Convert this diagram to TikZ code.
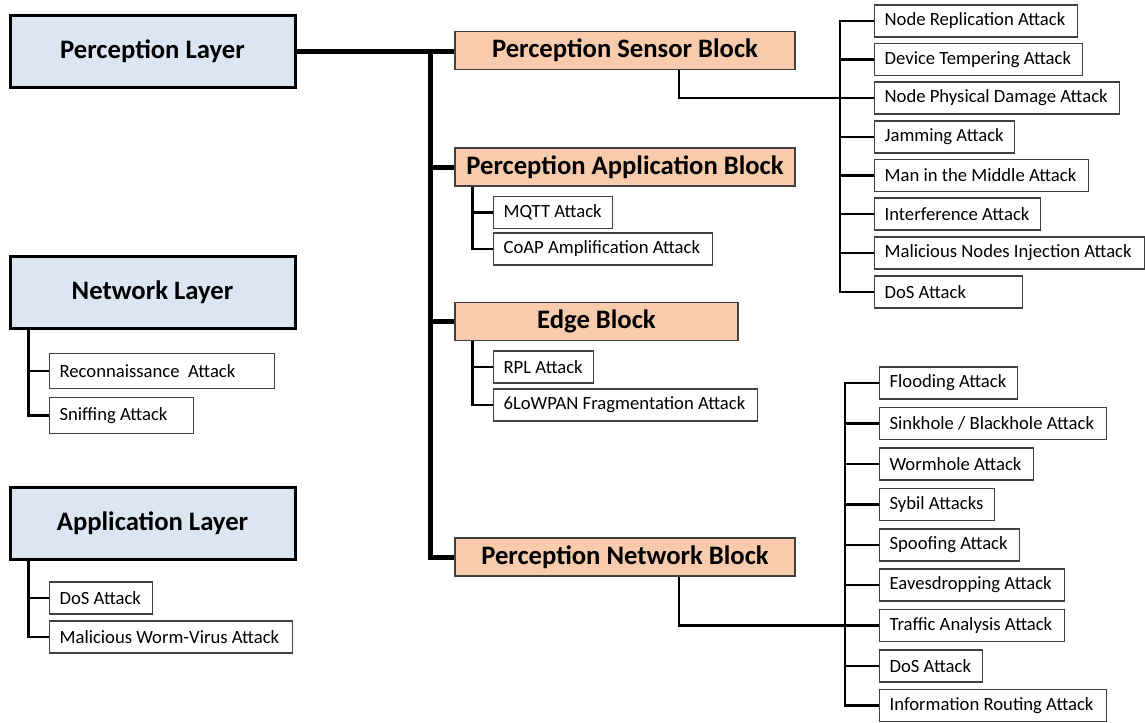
\documentclass[tikz,border=0pt]{standalone}
\usepackage{fontspec}
\setmainfont{Carlito}
\definecolor{layerfill}{HTML}{DCE6F2}
\definecolor{blockfill}{HTML}{F8CBAD}
\definecolor{edgegray}{HTML}{404040}
% fixed-width, left-aligned label body (#1 = outer box width in pt)
\newcommand\lefttext[2]{\makebox[\dimexpr#1pt-15pt\relax][l]{#2}}
\begin{document}
\begin{tikzpicture}[x=0.75pt,y=-0.75pt,
  layer/.style={draw=black, line width=2.25pt, fill=layerfill, minimum width=213.75pt,
    minimum height=54pt, inner sep=0pt, font=\fontsize{20}{24}\selectfont\bfseries},
  block/.style={draw=edgegray, line width=1pt, fill=blockfill, minimum width=255pt,
    minimum height=28.5pt, inner sep=0pt, font=\fontsize{20}{24}\selectfont\bfseries},
  attack/.style={draw=edgegray, line width=0.9pt, fill=white, anchor=west, inner xsep=7.5pt,
    inner ysep=0pt, minimum height=24pt, font=\fontsize{14}{16}\selectfont},
  trunk/.style={line width=3.75pt},
  branch/.style={line width=2pt},
  feed/.style={line width=1.6pt}]

\useasboundingbox (0,0) rectangle (1145,722);

% layers
\node[layer] (pl) at (152.5,51)  {Perception Layer};
\node[layer] (nl) at (152.5,292) {Network Layer};
\node[layer] (al) at (152.5,523) {Application Layer};

% perception blocks
\node[block] (psb) at (625,50.5)  {Perception Sensor Block};
\node[block] (pab) at (625,167)   {Perception Application Block};
\node[block, minimum width=212.25pt] (eb) at (596.5,321.5) {Edge Block};
\node[block] (pnb) at (625,557)   {Perception Network Block};

% sensor block attacks
\node[attack] (s1) at (874,21)    {\lefttext{152.25}{Node Replication Attack}};
\node[attack] (s2) at (874,59.5)  {\lefttext{156}{Device Tempering Attack}};
\node[attack] (s3) at (874,98)    {\lefttext{183.75}{Node Physical Damage Attack}};
\node[attack] (s4) at (874,137)   {\lefttext{105}{Jamming Attack}};
\node[attack] (s5) at (874,175.5) {\lefttext{160.5}{Man in the Middle Attack}};
\node[attack] (s6) at (874,214)   {\lefttext{124.5}{Interference Attack}};
\node[attack] (s7) at (874,253)   {\lefttext{202.5}{Malicious Nodes Injection Attack}};
\node[attack] (s8) at (874,292)   {\lefttext{111}{DoS Attack}};

% network block attacks
\node[attack] (n1) at (879,383)   {\lefttext{103.5}{Flooding Attack}};
\node[attack] (n2) at (879,423.5) {\lefttext{170.25}{Sinkhole / Blackhole Attack}};
\node[attack] (n3) at (879,464)   {\lefttext{115.5}{Wormhole Attack}};
\node[attack] (n4) at (879,504.5) {\lefttext{86.25}{Sybil Attacks}};
\node[attack] (n5) at (879,545)   {\lefttext{105}{Spoofing Attack}};
\node[attack] (n6) at (879,585)   {\lefttext{138.75}{Eavesdropping Attack}};
\node[attack] (n7) at (879,625.5) {\lefttext{138.75}{Traffic Analysis Attack}};
\node[attack] (n8) at (879,666)   {\lefttext{77.25}{DoS Attack}};
\node[attack] (n9) at (879,705.5) {\lefttext{170.25}{Information Routing Attack}};

% application and edge block attacks
\node[attack] (a1) at (493,212.5) {\lefttext{89.25}{MQTT Attack}};
\node[attack] (a2) at (493,249)   {\lefttext{164.25}{CoAP Amplification Attack}};
\node[attack] (e1) at (493,367)   {\lefttext{75}{RPL Attack}};
\node[attack] (e2) at (493,405)   {\lefttext{198}{6LoWPAN Fragmentation Attack}};

% network / application layer attacks
\node[attack, minimum height=26.5pt] (r1) at (49,371)   {\lefttext{168.75}{Reconnaissance\ \ Attack}};
\node[attack, minimum height=26.5pt] (r2) at (49,415.5) {\lefttext{108}{Sniffing Attack}};
\node[attack] (d1) at (49,598) {\lefttext{77.25}{DoS Attack}};
\node[attack] (d2) at (49,637) {\lefttext{182.25}{Malicious Worm-Virus Attack}};

% main trunk
\coordinate (tr) at (430,51);
\draw[trunk] (pl.east) -- (pl.east -| psb.west);
\draw[trunk] (tr) |- (pnb.west);
\draw[trunk] (tr |- pab.west) -- (pab.west);
\draw[trunk] (tr |- eb.west) -- (eb.west);

% sensor block fan-out
\coordinate (sbar) at (840,0);
\draw[feed] ([xshift=40.5pt]psb.south) |- (s3.west);
\draw[feed] (s1.west) -- (s1.west -| sbar) -- (s8.west -| sbar) -- (s8.west);
\foreach \i in {2,...,7} \draw[feed] (s\i.west) -- (s\i.west -| sbar);

% network block fan-out
\coordinate (nbar) at (845,0);
\draw[feed] ([xshift=40.5pt]pnb.south) |- (n7.west);
\draw[feed] (n1.west) -- (n1.west -| nbar) -- (n9.west -| nbar) -- (n9.west);
\foreach \i in {2,...,8} \draw[feed] (n\i.west) -- (n\i.west -| nbar);

% small groups
\coordinate (pabx) at ([xshift=13.5pt]pab.south west);
\draw[branch] (pabx) |- (a2.west);
\draw[branch] (a1.west) -- (a1.west -| pabx);
\coordinate (ebx) at ([xshift=13.5pt]eb.south west);
\draw[branch] (ebx) |- (e2.west);
\draw[branch] (e1.west) -- (e1.west -| ebx);
\coordinate (nlx) at ([xshift=15pt]nl.south west);
\draw[branch] (nlx) |- (r2.west);
\draw[branch] (r1.west) -- (r1.west -| nlx);
\coordinate (alx) at ([xshift=15pt]al.south west);
\draw[branch] (alx) |- (d2.west);
\draw[branch] (d1.west) -- (d1.west -| alx);
\end{tikzpicture}
\end{document}
